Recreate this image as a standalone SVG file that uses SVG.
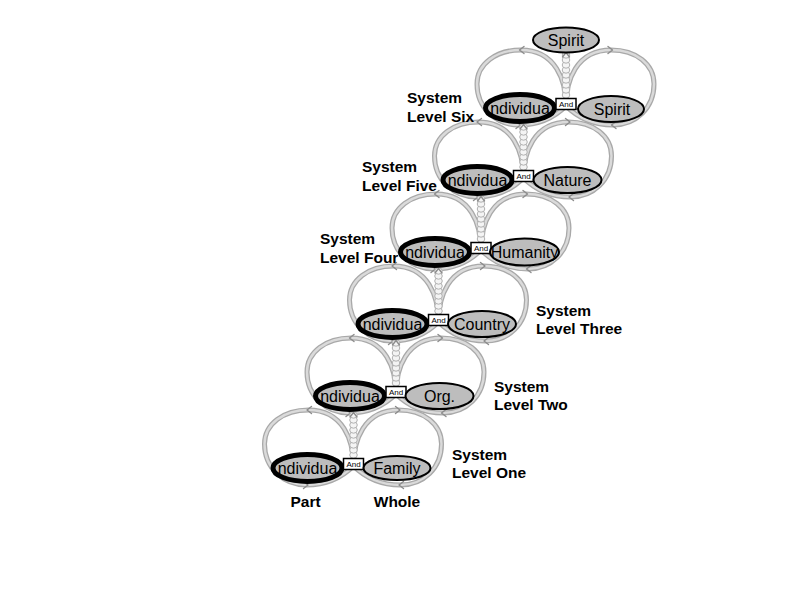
<svg xmlns="http://www.w3.org/2000/svg" width="792" height="612" viewBox="0 0 792 612">
<style>
.bo{fill:none;stroke:#a9a9a9;stroke-width:5;stroke-linejoin:round}
.bi{fill:none;stroke:#dadada;stroke-width:2.4;stroke-linejoin:round}
.ar{fill:none;stroke:#8c8c8c;stroke-width:1.4;stroke-linecap:round;stroke-linejoin:round}
.cl{fill:#f4f4f4;stroke:#b0b0b0;stroke-width:1}
.ind{fill:#bdbdbd;stroke:#000;stroke-width:5}
.oth{fill:#bdbdbd;stroke:#000;stroke-width:2}
.box{fill:#fff;stroke:#000;stroke-width:1.5}
.t{font-family:"Liberation Sans",Arial,sans-serif;font-size:16px;fill:#000;text-anchor:middle}
.a{font-family:"Liberation Sans",Arial,sans-serif;font-size:8px;fill:#000;text-anchor:middle}
.lb{font-family:"Liberation Sans",Arial,sans-serif;font-size:15.5px;font-weight:bold;fill:#000}
</style>
<defs>
<path id="ar" class="ar" d="M-3,-3.5 L1.5,0 L-3,3.5"/>
<path id="lp" d="M0,0 C0,-25 10,-56 45,-56 C70,-56 88,-42 88,-22 C88,2 70,19 47,19 C25,19 10,10 0,0 C0,-25 -10,-56 -45,-56 C-70,-56 -89,-42 -89,-22 C-89,2 -70,19 -47,19 C-25,19 -10,10 0,0 Z"/>
<g id="inf">
<use href="#lp" class="bo"/>
<use href="#lp" class="bi"/>
<use href="#ar" transform="translate(-45,-56) rotate(180)"/>
<use href="#ar" transform="translate(-47,19)"/>
<use href="#ar" transform="translate(45,-56)"/>
<use href="#ar" transform="translate(47,19) rotate(180)"/>
</g>
<g id="coil">
<ellipse class="cl" cx="0" cy="-3" rx="3.8" ry="3.2"/>
<ellipse class="cl" cx="0" cy="-8" rx="3.8" ry="3.2"/>
<ellipse class="cl" cx="0" cy="-13" rx="3.8" ry="3.2"/>
<ellipse class="cl" cx="0" cy="-18" rx="3.8" ry="3.2"/>
<ellipse class="cl" cx="0" cy="-23" rx="3.8" ry="3.2"/>
<ellipse class="cl" cx="0" cy="-28" rx="3.8" ry="3.2"/>
<ellipse class="cl" cx="0" cy="-33" rx="3.8" ry="3.2"/>
<ellipse class="cl" cx="0" cy="-38" rx="3.8" ry="3.2"/>
<ellipse class="cl" cx="0" cy="-43" rx="3.8" ry="3.2"/>
<use href="#ar" transform="translate(0,-44) rotate(-90)"/>
</g>
</defs>
<rect width="792" height="612" fill="#fff"/>

<g id="connectors">
<use href="#inf" transform="translate(353.5,466)"/>
<use href="#inf" transform="translate(396,394)"/>
<use href="#inf" transform="translate(438.5,322)"/>
<use href="#inf" transform="translate(481,250)"/>
<use href="#inf" transform="translate(523.5,178)"/>
<use href="#inf" transform="translate(566,106)"/>
<use href="#coil" transform="translate(353.5,458)"/>
<use href="#coil" transform="translate(396,386)"/>
<use href="#coil" transform="translate(438.5,314)"/>
<use href="#coil" transform="translate(481,242)"/>
<use href="#coil" transform="translate(523.5,170)"/>
<use href="#coil" transform="translate(566,98)"/>
</g>

<g id="spirit-top"><ellipse class="oth" cx="566" cy="40" rx="33" ry="12.5"/><text class="t" x="566" y="45.5">Spirit</text></g>

<g id="ind6"><ellipse class="ind" cx="520" cy="108" rx="34.5" ry="13.5"/><text class="t" x="520" y="113.5">ndividua</text></g>
<g id="and6"><rect class="box" x="556" y="98.5" width="20" height="11"/><text class="a" x="566" y="107">And</text></g>
<g id="spirit6"><ellipse class="oth" cx="611" cy="109" rx="33" ry="13"/><text class="t" x="612" y="114.5">Spirit</text></g>

<g id="ind5"><ellipse class="ind" cx="477.5" cy="180" rx="34.5" ry="13.5"/><text class="t" x="477.5" y="185.5">ndividua</text></g>
<g id="and5"><rect class="box" x="513.5" y="170.5" width="20" height="11"/><text class="a" x="523.5" y="179">And</text></g>
<g id="nature5"><ellipse class="oth" cx="567.5" cy="180" rx="34" ry="13"/><text class="t" x="567.5" y="185.5">Nature</text></g>

<g id="ind4"><ellipse class="ind" cx="435" cy="252" rx="34.5" ry="13.5"/><text class="t" x="435" y="257.5">ndividua</text></g>
<g id="and4"><rect class="box" x="471" y="242.5" width="20" height="11"/><text class="a" x="481" y="251">And</text></g>
<g id="humanity4"><ellipse class="oth" cx="524.5" cy="252" rx="34.5" ry="13.5"/><text class="t" x="524.5" y="257.5">Humanity</text></g>

<g id="ind3"><ellipse class="ind" cx="392.5" cy="324" rx="34.5" ry="13.5"/><text class="t" x="392.5" y="329.5">ndividua</text></g>
<g id="and3"><rect class="box" x="428.5" y="314.5" width="20" height="11"/><text class="a" x="438.5" y="323">And</text></g>
<g id="country3"><ellipse class="oth" cx="482" cy="324" rx="34" ry="13"/><text class="t" x="482" y="329.5">Country</text></g>

<g id="ind2"><ellipse class="ind" cx="350" cy="396" rx="34.5" ry="13.5"/><text class="t" x="350" y="401.5">ndividua</text></g>
<g id="and2"><rect class="box" x="386" y="386.5" width="20" height="11"/><text class="a" x="396" y="395">And</text></g>
<g id="org2"><ellipse class="oth" cx="439.5" cy="396" rx="34" ry="13"/><text class="t" x="439.5" y="401.5">Org.</text></g>

<g id="ind1"><ellipse class="ind" cx="307.5" cy="468" rx="34.5" ry="13.5"/><text class="t" x="307.5" y="473.5">ndividua</text></g>
<g id="and1"><rect class="box" x="343.5" y="458.5" width="20" height="11"/><text class="a" x="353.5" y="467">And</text></g>
<g id="family1"><ellipse class="oth" cx="397" cy="468" rx="33.5" ry="12"/><text class="t" x="397" y="473.5">Family</text></g>

<g id="labels">
<text class="lb" x="407" y="103">System</text><text class="lb" x="407" y="122">Level Six</text>
<text class="lb" x="362" y="172">System</text><text class="lb" x="362" y="191">Level Five</text>
<text class="lb" x="320" y="244">System</text><text class="lb" x="320" y="263">Level Four</text>
<text class="lb" x="536" y="316">System</text><text class="lb" x="536" y="334">Level Three</text>
<text class="lb" x="494" y="392">System</text><text class="lb" x="494" y="410">Level Two</text>
<text class="lb" x="452" y="460">System</text><text class="lb" x="452" y="478">Level One</text>
<text class="lb" x="305.5" y="507" text-anchor="middle">Part</text>
<text class="lb" x="397" y="507" text-anchor="middle">Whole</text>
</g>
</svg>
